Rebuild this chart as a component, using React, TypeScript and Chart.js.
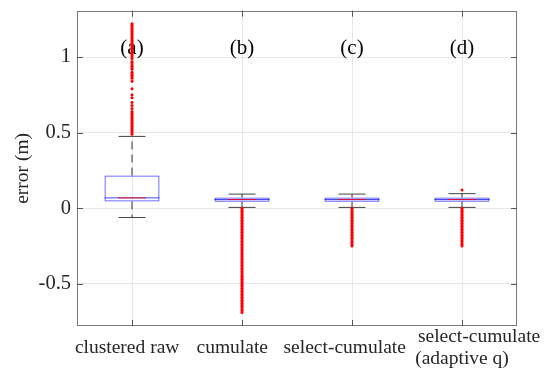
import React, { useEffect, useRef } from 'react';
import { Chart, registerables } from 'chart.js';

Chart.register(...registerables);

const categories: (string | string[])[] = ['clustered raw', 'cumulate', 'select-cumulate', ['select-cumulate', '(adaptive q)']];
const panelLabels = ['(a)', '(b)', '(c)', '(d)'];
const panelLabelY = 1.06;

const q1 = [0.044, 0.042, 0.042, 0.042];
const q3 = [0.216, 0.071, 0.071, 0.071];
const medians = [0.068, 0.057, 0.057, 0.057];
const whiskerLow = [-0.062, 0.005, 0.005, 0.005];
const whiskerHigh = [0.475, 0.093, 0.093, 0.096];

const outliersA = [1.22, 1.21, 1.2, 1.19, 1.18, 1.17, 1.16, 1.15, 1.14, 1.13, 1.12, 1.11, 1.1, 1.09, 1.08, 1.07, 1.06, 1.05, 1.04, 1.03, 1.02, 1.01, 1.0, 0.99, 0.97, 0.96, 0.95, 0.94, 0.93, 0.92, 0.9, 0.89, 0.88, 0.87, 0.86, 0.84, 0.79, 0.75, 0.73, 0.7, 0.68, 0.66, 0.64, 0.63, 0.62, 0.61, 0.6, 0.59, 0.58, 0.57, 0.56, 0.55, 0.54, 0.53, 0.52, 0.51, 0.5, 0.49];
const outliersB = [0.0, -0.01, -0.02, -0.03, -0.04, -0.05, -0.06, -0.07, -0.08, -0.09, -0.1, -0.11, -0.12, -0.13, -0.14, -0.15, -0.16, -0.17, -0.18, -0.19, -0.2, -0.21, -0.22, -0.23, -0.24, -0.25, -0.26, -0.27, -0.28, -0.29, -0.3, -0.31, -0.32, -0.33, -0.34, -0.35, -0.36, -0.37, -0.38, -0.39, -0.4, -0.41, -0.42, -0.43, -0.44, -0.45, -0.46, -0.47, -0.48, -0.49, -0.5, -0.51, -0.52, -0.53, -0.54, -0.55, -0.56, -0.57, -0.58, -0.59, -0.6, -0.61, -0.62, -0.63, -0.64, -0.65, -0.66, -0.67, -0.68, -0.69];
const outliersC = [0.0, -0.01, -0.02, -0.03, -0.04, -0.05, -0.06, -0.07, -0.08, -0.09, -0.1, -0.11, -0.12, -0.13, -0.14, -0.15, -0.16, -0.17, -0.18, -0.19, -0.2, -0.21, -0.22, -0.23, -0.24, -0.25];
const outliersD = [0.12, 0.0, -0.01, -0.02, -0.03, -0.04, -0.05, -0.06, -0.07, -0.08, -0.09, -0.1, -0.11, -0.12, -0.13, -0.14, -0.15, -0.16, -0.17, -0.18, -0.19, -0.2, -0.21, -0.22, -0.23, -0.24, -0.25];
const outliers = [outliersA, outliersB, outliersC, outliersD];

const yTicks = [-0.5, 0, 0.5, 1];
const yMin = -0.78;
const yMax = 1.307;

const FONT = "'Liberation Serif', 'Times New Roman', serif";
const TEXT = '#262626';

// leading / trailing spaces per tick-label line, to reproduce the source's off-centre label placement
const labelPad: [number, number][][] = [[[0, 2]], [[0, 4]], [[0, 3]], [[7, 0], [0, 0]]];
const padLine = (s: string, lead: number, trail: number) => ' '.repeat(lead) + s + ' '.repeat(trail);

const framePlugin = {
  id: 'frame',
  beforeDatasetsDraw(chart: any) {
    const { ctx, scales } = chart;
    ctx.save();
    ctx.font = `21px ${FONT}`;
    ctx.fillStyle = '#000';
    ctx.textAlign = 'center';
    ctx.textBaseline = 'middle';
    panelLabels.forEach((t, i) => {
      ctx.fillText(t, scales.x.getPixelForValue(i), scales.y.getPixelForValue(panelLabelY));
    });
    ctx.restore();
  },
  afterDatasetsDraw(chart: any) {
    const { ctx, chartArea: a, scales } = chart;
    ctx.save();
    ctx.strokeStyle = '#7a7a7a';
    ctx.lineWidth = 1;
    ctx.strokeRect(Math.round(a.left) + 0.5, Math.round(a.top) + 0.5, Math.round(a.right - a.left) - 1, Math.round(a.bottom - a.top) - 1);
    ctx.strokeStyle = '#555';
    const tl = 6;
    ctx.beginPath();
    scales.y.ticks.forEach((t: any) => {
      const y = Math.round(scales.y.getPixelForValue(t.value)) + 0.5;
      ctx.moveTo(a.left, y); ctx.lineTo(a.left + tl, y);
      ctx.moveTo(a.right, y); ctx.lineTo(a.right - tl, y);
    });
    categories.forEach((_c, i) => {
      const x = Math.round(scales.x.getPixelForValue(i)) + 0.5;
      ctx.moveTo(x, a.top); ctx.lineTo(x, a.top + tl);
      ctx.moveTo(x, a.bottom); ctx.lineTo(x, a.bottom - tl);
    });
    ctx.stroke();
    ctx.restore();
  },
};

export default function App() {
  const ref = useRef<HTMLCanvasElement | null>(null);
  useEffect(() => {
    if (!ref.current) return;
    const whiskerData: any[] = [];
    const capData: any[] = [];
    const medData: any[] = [];
    const outData: any[] = [];
    categories.forEach((c, i) => {
      whiskerData.push({ x: c, y: q3[i] }, { x: c, y: whiskerHigh[i] }, { x: c, y: null });
      whiskerData.push({ x: c, y: q1[i] }, { x: c, y: whiskerLow[i] }, { x: c, y: null });
      capData.push({ x: c, y: whiskerHigh[i] }, { x: c, y: whiskerLow[i] });
      medData.push({ x: c, y: medians[i] });
      outliers[i].forEach((v) => outData.push({ x: c, y: v }));
    });
    const chart = new Chart(ref.current, {
      type: 'bar',
      data: {
        labels: categories as any,
        datasets: [
          {
            type: 'bar',
            data: categories.map((_c, i) => [q1[i], q3[i]]) as any,
            backgroundColor: 'rgba(0,0,0,0)',
            borderColor: 'rgba(0,0,255,0.75)',
            borderWidth: 1,
            borderSkipped: false,
            barPercentage: 0.5,
            categoryPercentage: 1,
            order: 5,
          } as any,
          {
            type: 'line',
            data: whiskerData,
            borderColor: '#333',
            borderWidth: 1,
            borderDash: [8, 5],
            pointRadius: 0,
            spanGaps: false,
            order: 4,
          } as any,
          {
            type: 'line',
            data: capData,
            showLine: false,
            pointStyle: 'line',
            pointRadius: 13.5,
            pointBorderColor: '#444',
            pointBorderWidth: 1,
            order: 3,
          } as any,
          {
            type: 'line',
            data: medData,
            showLine: false,
            pointStyle: 'line',
            pointRadius: 27.5,
            pointBorderColor: 'rgba(0,0,255,0.75)',
            pointBorderWidth: 1,
            order: 2,
          } as any,
          {
            type: 'line',
            data: medData,
            showLine: false,
            pointStyle: 'line',
            pointRadius: 14,
            pointBorderColor: 'rgba(255,0,0,0.85)',
            pointBorderWidth: 1,
            order: 1,
          } as any,
          {
            type: 'line',
            data: outData,
            showLine: false,
            pointStyle: 'circle',
            pointRadius: 1.5,
            pointBackgroundColor: '#ff0000',
            pointBorderWidth: 0,
            order: 0,
          } as any,
        ],
      },
      options: {
        animation: false,
        responsive: false,
        events: [],
        layout: { autoPadding: false, padding: { top: 10.7, right: 29, left: 0, bottom: 0 } },
        plugins: { legend: { display: false }, tooltip: { enabled: false } },
        scales: {
          x: {
            type: 'category',
            offset: true,
            grid: { offset: false, color: '#e8e8e8', drawTicks: false },
            border: { display: false },
            ticks: {
              color: TEXT,
              font: { family: FONT, size: 19.5, lineHeight: 1.13 },
              padding: 11,
              crossAlign: 'center',
              maxRotation: 0,
              autoSkip: false,
              callback: (_v: any, i: number) => {
                const c = categories[i];
                const lines = Array.isArray(c) ? c : [c];
                const out = lines.map((l, k) => padLine(l, labelPad[i][k][0], labelPad[i][k][1]));
                return out.length === 1 ? out[0] : out;
              },
            },
            afterFit: (s: any) => { s.height = 45; s.paddingLeft = 0; s.paddingRight = 0; },
          },
          y: {
            type: 'linear',
            min: yMin,
            max: yMax,
            grid: { color: '#e8e8e8', drawTicks: false },
            border: { display: false },
            afterBuildTicks: (s: any) => { s.ticks = yTicks.map((v) => ({ value: v })); },
            afterFit: (s: any) => { s.width = 77; s.paddingTop = 0; s.paddingBottom = 0; },
            ticks: {
              color: TEXT,
              font: { family: FONT, size: 20.5 },
              padding: 6,
              callback: (v: any) => String(v),
            },
            title: {
              display: true,
              text: 'error (m)',
              color: TEXT,
              font: { family: FONT, size: 19.5, lineHeight: 1.2 },
              padding: { top: 11, bottom: 0 },
            },
          },
        },
      },
      plugins: [framePlugin],
    });
    return () => chart.destroy();
  }, []);
  return (
    <div style={{ position: 'absolute', left: 0, top: 0, width: 546, height: 371, background: '#fff' }}>
      <canvas ref={ref} width={546} height={371} style={{ width: 546, height: 371 }} />
    </div>
  );
}
